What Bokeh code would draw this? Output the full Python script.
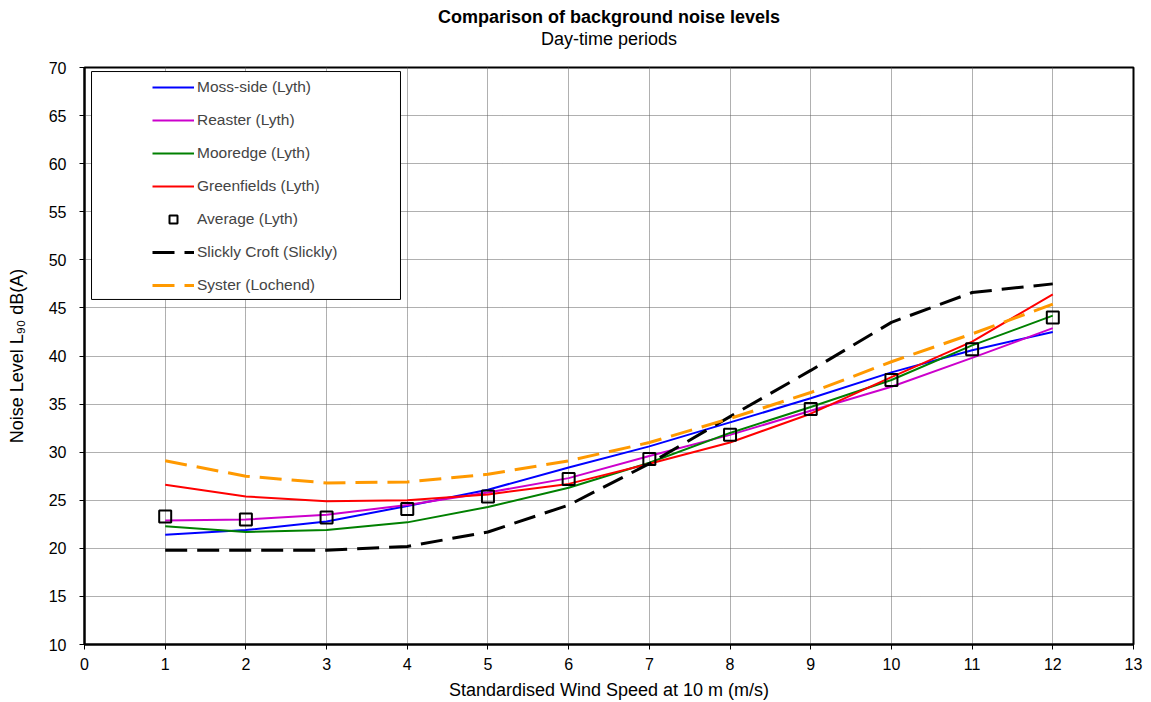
from bokeh.plotting import figure
from bokeh.models import Title, Legend, LegendItem, BoxAnnotation, FixedTicker, Range1d
from bokeh.embed import file_html
from bokeh.resources import INLINE

wind = [1, 2, 3, 4, 5, 6, 7, 8, 9, 10, 11, 12]
moss_side = [21.4, 21.9, 22.8, 24.4, 26.1, 28.4, 30.6, 33.1, 35.6, 38.3, 40.6, 42.5]
reaster = [22.9, 23.0, 23.5, 24.5, 25.8, 27.3, 29.6, 31.8, 34.3, 36.8, 39.8, 42.9]
mooredge = [22.3, 21.7, 21.9, 22.7, 24.3, 26.3, 28.9, 32.0, 34.7, 37.5, 41.1, 44.2]
greenfields = [26.6, 25.4, 24.9, 25.0, 25.6, 26.7, 28.8, 31.0, 34.0, 37.8, 41.5, 46.4]
average = [23.3, 23.0, 23.2, 24.1, 25.4, 27.2, 29.3, 31.8, 34.5, 37.5, 40.7, 44.0]
slickly = [19.8, 19.8, 19.8, 20.2, 21.7, 24.5, 28.8, 33.7, 38.5, 43.5, 46.6, 47.5]
syster = [29.1, 27.5, 26.8, 26.9, 27.7, 29.1, 31.0, 33.5, 36.2, 39.4, 42.3, 45.4]

x_ticks = list(range(0, 14))
y_ticks = list(range(10, 75, 5))

FONT = "Liberation Sans"

p = figure(width=1151, height=702, output_backend="svg", toolbar_location=None,
           x_range=Range1d(0, 13), y_range=Range1d(10, 70),
           min_border_left=84, min_border_right=18, min_border_top=67, min_border_bottom=58,
           title=None)

p.add_layout(Title(text=" ", align="center", text_font=FONT, text_font_size="16px",
                   standoff=0, offset=0), "above")
p.add_layout(Title(text="Day-time periods", align="center", text_font=FONT,
                   text_font_size="18px", text_font_style="normal", text_color="black",
                   standoff=0, offset=0), "above")
p.add_layout(Title(text="Comparison of background noise levels", align="center", text_font=FONT,
                   text_font_size="18px", text_font_style="bold", text_color="black",
                   standoff=0, offset=0), "above")

p.outline_line_color = "black"
p.outline_line_width = 2
p.background_fill_color = "white"
p.border_fill_color = "white"

for ax in (p.xaxis[0], p.yaxis[0]):
    ax.axis_line_color = "black"
    ax.axis_line_width = 2
    ax.major_tick_line_color = "black"
    ax.major_tick_out = 5
    ax.major_tick_in = 0
    ax.minor_tick_line_color = None
    ax.major_label_text_font = FONT
    ax.major_label_text_font_size = "16px"
    ax.major_label_text_color = "black"
    ax.axis_label_text_font = FONT
    ax.axis_label_text_font_size = "18px"
    ax.axis_label_text_font_style = "normal"
    ax.axis_label_text_color = "black"

p.xaxis[0].ticker = FixedTicker(ticks=x_ticks)
p.yaxis[0].ticker = FixedTicker(ticks=y_ticks)
p.xaxis[0].axis_label = "Standardised Wind Speed at 10 m (m/s)"
p.yaxis[0].axis_label = "Noise Level L\u2089\u2080 dB(A)"
p.xaxis[0].major_label_standoff = 8
p.yaxis[0].major_label_standoff = 13
p.xaxis[0].axis_label_standoff = 7
p.yaxis[0].axis_label_standoff = 19

p.xgrid[0].ticker = FixedTicker(ticks=x_ticks)
p.ygrid[0].ticker = FixedTicker(ticks=y_ticks)
for g in (p.xgrid[0], p.ygrid[0]):
    g.grid_line_color = "#606060"
    g.grid_line_dash = "1 1"
    g.grid_line_width = 1

r_moss = p.line(wind, moss_side, line_color="#0000FF", line_width=2)
r_reaster = p.line(wind, reaster, line_color="#CC00CC", line_width=2)
r_moor = p.line(wind, mooredge, line_color="#008000", line_width=2)
r_green = p.line(wind, greenfields, line_color="#FF0000", line_width=2)
r_slick = p.line(wind, slickly, line_color="black", line_width=3, line_dash="22 10")
r_syster = p.line(wind, syster, line_color="#FF9900", line_width=3, line_dash="22 10")
r_avg = p.scatter(wind, average, marker="square", size=12, fill_color=None,
                  line_color="black", line_width=2)

box = BoxAnnotation(left=0.087, right=3.916, top=69.58, bottom=45.88,
                    fill_color="white", fill_alpha=1.0, line_color="black", line_width=1,
                    line_alpha=1.0, level="underlay")
p.add_layout(box)

legend = Legend(items=[
    LegendItem(label="Moss-side (Lyth)", renderers=[r_moss]),
    LegendItem(label="Reaster (Lyth)", renderers=[r_reaster]),
    LegendItem(label="Mooredge (Lyth)", renderers=[r_moor]),
    LegendItem(label="Greenfields (Lyth)", renderers=[r_green]),
    LegendItem(label="Average (Lyth)", renderers=[r_avg]),
    LegendItem(label="Slickly Croft (Slickly)", renderers=[r_slick]),
    LegendItem(label="Syster (Lochend)", renderers=[r_syster]),
], location=(68, 349), padding=0, spacing=13, label_height=20, glyph_height=20,
    glyph_width=42, label_standoff=3, border_line_alpha=0, background_fill_alpha=0,
    label_text_font=FONT, label_text_font_size="15.5px", margin=0)
p.add_layout(legend)

open("out.html", "w").write(file_html(p, INLINE))
